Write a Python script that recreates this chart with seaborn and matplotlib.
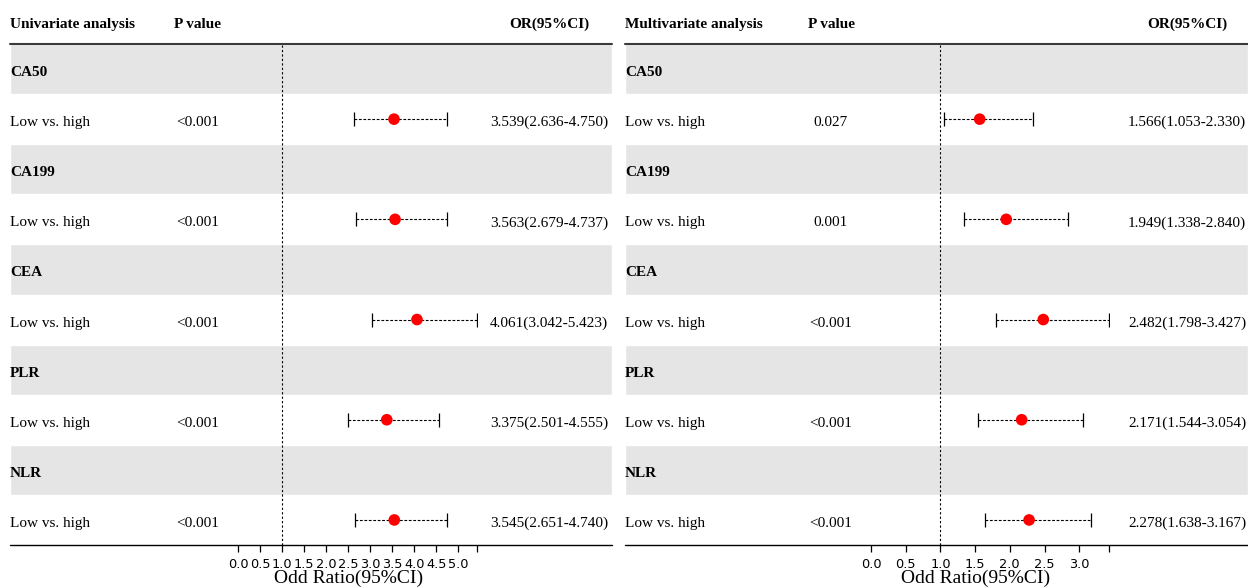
import numpy as np
import pandas as pd
import matplotlib
matplotlib.use('Agg')
import matplotlib.pyplot as plt
import matplotlib.transforms as mtransforms
import seaborn as sns

# data
variables = ['CA50', 'CA199', 'CEA', 'PLR', 'NLR']
contrast = 'Low vs. high'

uni_p = ['<0.001', '<0.001', '<0.001', '<0.001', '<0.001']
uni_or = [3.539, 3.563, 4.061, 3.375, 3.545]
uni_lo = [2.636, 2.679, 3.042, 2.501, 2.651]
uni_hi = [4.750, 4.737, 5.423, 4.555, 4.740]

multi_p = ['0.027', '0.001', '<0.001', '<0.001', '<0.001']
multi_or = [1.566, 1.949, 2.482, 2.171, 2.278]
multi_lo = [1.053, 1.338, 1.798, 1.544, 1.638]
multi_hi = [2.330, 2.840, 3.427, 3.054, 3.167]

sns.set_style('white')
plt.rcParams['font.family'] = ['Liberation Serif', 'DejaVu Serif']
plt.rcParams['text.color'] = 'black'
plt.rcParams['xtick.color'] = 'black'
plt.rcParams['xtick.labelcolor'] = 'black'

W, H = 1248, 588
TOP, BOTTOM = 44, 545
N_ROWS = 2 * len(variables)
ROW_H = (BOTTOM - TOP) / N_ROWS
FS = 11
BASE = 7  # baseline offset below row centre, px

fig = plt.figure(figsize=(W / 100, H / 100), dpi=100)
bg = fig.add_axes([0, 0, 1, 1])
bg.set_xlim(0, W)
bg.set_ylim(H, 0)
bg.axis('off')


def draw_panel(title, p_vals, ors, los, his, x0, x1, p_x, or_x, fx0, ppu):
    n = len(variables)
    for i, var in enumerate(variables):
        yc = TOP + ROW_H * (2 * i + 0.5)
        bg.barh(yc, x1 - x0, left=x0, height=ROW_H, color='#e5e5e5', zorder=0)
        bg.text(x0, yc + BASE, var, weight='bold', fontsize=FS, va='baseline', ha='left')
        y2 = yc + ROW_H + BASE
        bg.text(x0, y2, contrast, fontsize=FS, va='baseline', ha='left')
        bg.text(p_x, y2, p_vals[i], fontsize=FS, va='baseline', ha='center')
        bg.text(or_x, y2, f'{ors[i]:.3f}({los[i]:.3f}-{his[i]:.3f})',
                fontsize=FS, va='baseline', ha='center')

    # header
    bg.text(x0, 28, title, weight='bold', fontsize=FS, va='baseline', ha='left')
    bg.text(p_x, 28, 'P value', weight='bold', fontsize=FS, va='baseline', ha='center')
    bg.text(or_x, 28, 'OR(95%CI)', weight='bold', fontsize=FS, va='baseline', ha='center')
    bg.plot([x0, x1], [TOP - 0.5, TOP - 0.5], color='#3a3a3a', lw=1.5)
    bg.plot([x0, x1], [BOTTOM, BOTTOM], color='black', lw=1)

    # forest column
    xmax = max(his)
    fax = fig.add_axes([fx0 / W, 1 - BOTTOM / H, xmax * ppu / W, (BOTTOM - TOP) / H])
    fax.patch.set_visible(False)
    df = pd.DataFrame({'OR': ors, 'lo': los, 'hi': his,
                       'row': 2 * np.arange(n) + 1})
    eb = fax.errorbar(df['OR'], df['row'],
                      xerr=[df['OR'] - df['lo'], df['hi'] - df['OR']],
                      fmt='none', ecolor='black', elinewidth=0.8,
                      capsize=5, capthick=0.9)
    eb[2][0].set_linestyle((0, (2.5, 1.5)))
    sns.scatterplot(data=df, x='OR', y='row', color='red', s=70,
                    edgecolor='none', ax=fax, zorder=3)
    fax.axvline(1, color='black', lw=0.8, ls=(0, (2, 2)))

    fax.set_xlim(0, xmax)
    fax.set_ylim(N_ROWS - 0.5, -0.5)
    ticks = list(np.arange(0, np.floor(xmax * 2) / 2 + 1e-9, 0.5))
    labels = [f'{t:.1f}' for t in ticks] + ['']
    fax.set_xticks(ticks + [xmax])
    fax.set_xticklabels(labels, family='DejaVu Sans', fontsize=9.3)
    fax.set_yticks([])
    fax.set_ylabel('')
    fax.set_xlabel('')
    for sp in fax.spines.values():
        sp.set_visible(False)
    fax.tick_params(axis='x', direction='out', length=5, width=0.9, pad=4,
                    bottom=True, color='black')
    trans = mtransforms.blended_transform_factory(fax.transData, bg.transData)
    fax.text(ticks[-1] / 2, 582.5, 'Odd Ratio(95%CI)', fontsize=14,
             ha='center', va='baseline', transform=trans, clip_on=False)


draw_panel('Univariate analysis', uni_p, uni_or, uni_lo, uni_hi,
           x0=10, x1=612, p_x=198, or_x=549, fx0=238.3, ppu=44.0)
draw_panel('Multivariate analysis', multi_p, multi_or, multi_lo, multi_hi,
           x0=625, x1=1248, p_x=831, or_x=1187, fx0=871, ppu=69.4)

fig.savefig('out.png', dpi=100)
